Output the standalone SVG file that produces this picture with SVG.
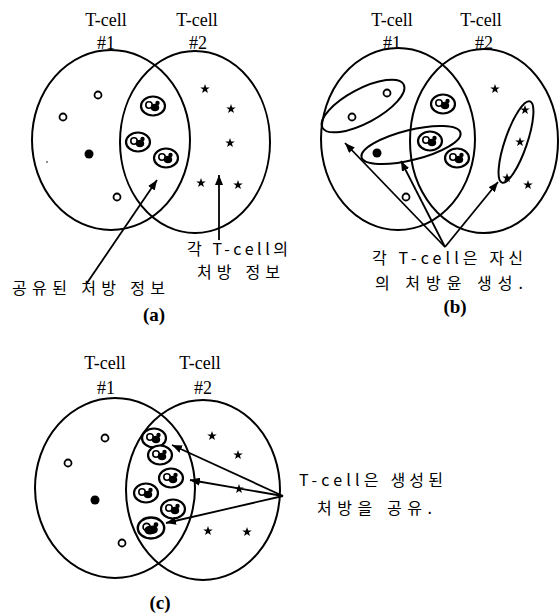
<svg xmlns="http://www.w3.org/2000/svg" width="560" height="616" viewBox="0 0 560 616">
<style>
.venn{fill:none;stroke:#000;stroke-width:2}
.lbl{font-family:"Liberation Serif","Times New Roman",serif;font-size:18px;fill:#000;text-anchor:middle}
.cap{font-family:"Liberation Serif","Times New Roman",serif;font-size:19px;font-weight:bold;fill:#000;text-anchor:middle}
.kr{font-family:"Noto Sans CJK KR",sans-serif;font-size:16px;fill:#000}
.hol{fill:#fff;stroke:#000;stroke-width:1.8}
.fil{fill:#000}
.grp{fill:none;stroke:#000;stroke-width:2}
.con{stroke:#000;stroke-width:1.8;fill:none;marker-end:url(#ah)}
</style>
<defs>
<marker id="ah" viewBox="0 0 10 8" refX="10" refY="4" markerWidth="10" markerHeight="8" markerUnits="userSpaceOnUse" orient="auto">
<path d="M0,0 L10,4 L0,8 z" fill="#000"/>
</marker>
<path id="star" d="M0,-5 L1.18,-1.62 L4.76,-1.55 L1.9,0.62 L2.94,4.05 L0,2 L-2.94,4.05 L-1.9,0.62 L-4.76,-1.55 L-1.18,-1.62 Z" fill="#000"/>
<g id="cl">
<ellipse rx="12" ry="9.5" fill="#fff" stroke="#000" stroke-width="2.2"/>
<circle cx="-4" cy="-1" r="3.2" fill="none" stroke="#000" stroke-width="1.6"/>
<ellipse cx="2" cy="1.5" rx="4.2" ry="3.8" fill="#000"/>
<circle cx="4.5" cy="-3" r="2.2" fill="#000"/>
</g>
</defs>

<g id="panel-a">
<g id="a-tcell1"><text class="lbl" x="106" y="26">T-cell</text><text class="lbl" x="106" y="49">#1</text><ellipse class="venn" cx="111" cy="140" rx="79" ry="90"/></g>
<g id="a-tcell2"><text class="lbl" x="197" y="26">T-cell</text><text class="lbl" x="198" y="49">#2</text><ellipse class="venn" cx="195" cy="142" rx="75" ry="91"/></g>
<g id="a-items">
<circle class="hol" cx="98" cy="95" r="3.5"/>
<circle class="hol" cx="63" cy="117" r="3.5"/>
<circle class="fil" cx="89" cy="154" r="4.5"/>
<circle class="hol" cx="117" cy="197" r="3.5"/>
<circle class="fil" cx="47" cy="162" r="0.8"/>
<use href="#cl" x="153" y="106"/>
<use href="#cl" x="138" y="142"/>
<use href="#cl" x="166" y="158"/>
<use href="#star" x="205" y="89"/>
<use href="#star" x="231" y="109"/>
<use href="#star" x="230" y="143"/>
<use href="#star" x="201" y="183"/>
<use href="#star" x="238" y="185"/>
</g>
<g id="a-label-shared"><text class="kr" x="12" y="294" textLength="153" lengthAdjust="spacing">공유된 처방 정보</text></g>
<g id="a-label-each"><text class="kr" x="187" y="255" textLength="101" lengthAdjust="spacing">각 T-cell의</text><text class="kr" x="197" y="278" textLength="83" lengthAdjust="spacing">처방 정보</text></g>
<text class="cap" x="154" y="321">(a)</text>
</g>

<g id="panel-b">
<g id="b-tcell1"><text class="lbl" x="392" y="26">T-cell</text><text class="lbl" x="392" y="49">#1</text><ellipse class="venn" cx="398" cy="139" rx="77" ry="91"/></g>
<g id="b-tcell2"><text class="lbl" x="481" y="26">T-cell</text><text class="lbl" x="484" y="49">#2</text><ellipse class="venn" cx="484" cy="141" rx="74" ry="92"/></g>
<g id="b-group1"><ellipse class="grp" cx="363" cy="106" rx="46" ry="17" transform="rotate(-28 363 106)"/>
<circle class="hol" cx="352" cy="117" r="3.5"/><circle class="hol" cx="387" cy="93" r="3.5"/></g>
<g id="b-group2"><ellipse class="grp" cx="411" cy="145" rx="51" ry="15" transform="rotate(-14 411 145)"/>
<circle class="fil" cx="377" cy="153" r="4.5"/><use href="#cl" x="430" y="141"/></g>
<g id="b-group3"><ellipse class="grp" cx="516" cy="142" rx="43" ry="11" transform="rotate(-71 516 142)"/>
<use href="#star" x="525" y="110"/><use href="#star" x="520" y="142"/><use href="#star" x="507" y="178"/></g>
<g id="b-items">
<use href="#cl" x="443" y="104"/>
<use href="#cl" x="457" y="158"/>
<circle class="hol" cx="406" cy="197" r="3.5"/>
<use href="#star" x="495" y="89"/>
<use href="#star" x="528" y="185"/>
</g>
<g id="b-label"><text class="kr" x="372" y="264" textLength="151" lengthAdjust="spacing">각 T-cell은 자신</text><text class="kr" x="375" y="289" textLength="148" lengthAdjust="spacing">의 처방윤 생성.</text></g>
<text class="cap" x="455" y="313">(b)</text>
</g>

<g id="panel-c">
<g id="c-tcell1"><text class="lbl" x="105" y="369">T-cell</text><text class="lbl" x="106" y="394">#1</text><ellipse class="venn" cx="115" cy="488" rx="80" ry="90"/></g>
<g id="c-tcell2"><text class="lbl" x="200" y="369">T-cell</text><text class="lbl" x="203" y="394">#2</text><ellipse class="venn" cx="203" cy="490" rx="77" ry="90"/></g>
<g id="c-items">
<circle class="hol" cx="105" cy="438" r="3.5"/>
<circle class="hol" cx="68" cy="463" r="3.5"/>
<circle class="fil" cx="95" cy="500" r="4.5"/>
<circle class="hol" cx="122" cy="543" r="3.5"/>
<use href="#star" x="212" y="436"/>
<use href="#star" x="238" y="455"/>
<use href="#star" x="239" y="489"/>
<use href="#star" x="208" y="531"/>
<use href="#star" x="247" y="532"/>
<use href="#cl" x="154" y="438"/>
<use href="#cl" x="160" y="455"/>
<use href="#cl" x="171" y="478"/>
<use href="#cl" x="146" y="493"/>
<use href="#cl" x="173" y="509"/>
<g transform="translate(151 528) scale(1.1)"><use href="#cl"/><ellipse cx="-1" cy="2" rx="5" ry="4" fill="#000"/></g>
</g>
<g id="c-label"><text class="kr" x="299" y="486" textLength="144" lengthAdjust="spacing">T-cell은 생성된</text><text class="kr" x="317" y="514" textLength="115" lengthAdjust="spacing">처방을 공유.</text></g>
<text class="cap" x="160" y="609">(c)</text>
</g>

<g id="connectors">
<line class="con" x1="87" y1="283" x2="157" y2="180"/>
<line class="con" x1="219" y1="240" x2="219" y2="175"/>
<line class="con" x1="445" y1="247" x2="345" y2="143"/>
<line class="con" x1="445" y1="247" x2="401" y2="161"/>
<line class="con" x1="445" y1="247" x2="498" y2="182"/>
<line class="con" x1="283" y1="496" x2="172" y2="445"/>
<line class="con" x1="283" y1="496" x2="190" y2="480"/>
<line class="con" x1="283" y1="496" x2="166" y2="523"/>
</g>
</svg>
